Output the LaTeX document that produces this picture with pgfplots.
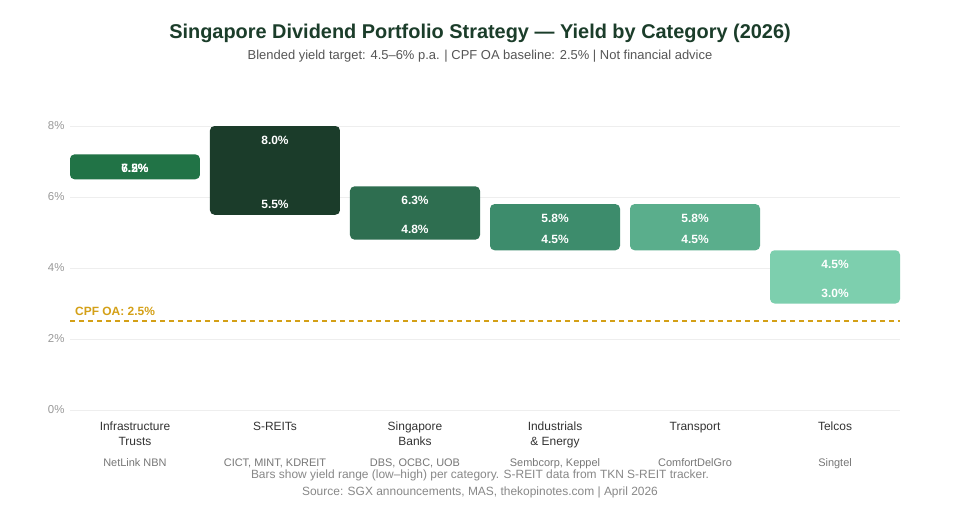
\documentclass[border=0pt]{standalone}
\usepackage{pgfplots}
\pgfplotsset{compat=1.18}
\usepackage{pgfplotstable}
\usepackage{fontspec}
\setmainfont{Liberation Sans}
\definecolor{c0}{HTML}{217346}
\definecolor{c1}{HTML}{1B3C2A}
\definecolor{c2}{HTML}{2E6E50}
\definecolor{c3}{HTML}{3D8C6C}
\definecolor{c4}{HTML}{5AAE8C}
\definecolor{c5}{HTML}{7DCFAE}
\definecolor{titlec}{HTML}{1B3D2A}
\definecolor{subc}{HTML}{555555}
\definecolor{tickc}{HTML}{999999}
\definecolor{catc}{HTML}{333333}
\definecolor{tkc}{HTML}{777777}
\definecolor{footc}{HTML}{888888}
\definecolor{gridc}{HTML}{EEEEEE}
\definecolor{cpfc}{HTML}{D4A017}
\pgfplotstableread{
x low high
0 6.5 7.2
1 5.5 8.0
2 4.8 6.3
3 4.5 5.8
4 4.5 5.8
5 3.0 4.5
}\yieldtable
\pgfplotsset{
  frame/.style={at={(70bp,110bp)}, anchor=south west, scale only axis,
    width=830bp, height=284bp,
    xmin=-0.464, xmax=5.464, ymin=0, ymax=8},
  barax/.style={frame, hide axis, stack plots=y, bar width=0.9286, bar shift=0pt},
}
\tikzset{lbl/.style={font=\bfseries\fontsize{12}{14}\selectfont, text=white}}
\newcommand{\tk}[1]{{\fontsize{11}{15.5}\selectfont\color{tkc}\strut #1}}
\begin{document}
\begin{tikzpicture}
\fill[white] (0bp,0bp) rectangle (960bp,520bp);
\node[font=\bfseries\fontsize{20}{24}\selectfont, text=titlec] at (480bp,487bp) {Singapore Dividend Portfolio Strategy — Yield by Category (2026)};
\node[font=\fontsize{13}{16}\selectfont, text=subc] at (480bp,464bp) {Blended yield target: 4.5–6\% p.a. | CPF OA baseline: 2.5\% | Not financial advice};
\begin{axis}[
  frame,
  axis line style={draw=none}, major tick length=0pt,
  ymajorgrids, grid style={gridc, line width=0.8bp},
  ytick={0,2,4,6,8},
  yticklabel={\pgfmathprintnumber{\tick}\%},
  /pgf/number format/assume math mode=true,
  yticklabel style={font=\fontsize{11.5}{14}\selectfont, text=tickc, xshift=-2bp},
  xtick={0,1,2,3,4,5},
  xticklabels={
    {\strut Infrastructure\\Trusts\\[5bp]\tk{NetLink NBN}},
    {\strut S-REITs\\\mbox{}\\[5bp]\tk{CICT, MINT, KDREIT}},
    {\strut Singapore\\Banks\\[5bp]\tk{DBS, OCBC, UOB}},
    {\strut Industrials\\\& Energy\\[5bp]\tk{Sembcorp, Keppel}},
    {\strut Transport\\\mbox{}\\[5bp]\tk{ComfortDelGro}},
    {\strut Telcos\\\mbox{}\\[5bp]\tk{Singtel}}},
  xticklabel style={font=\fontsize{12}{15.5}\selectfont, text=catc, align=center, anchor=north, yshift=-6bp},
  clip=false,
]
\addplot[sharp plot, cpfc, dash pattern=on 5bp off 4bp, line width=1.6bp, forget plot] coordinates {(-0.464,2.5) (5.464,2.5)};
\node[font=\bfseries\fontsize{12}{14}\selectfont, text=cpfc, anchor=base west, inner sep=0pt, xshift=5bp, yshift=6bp] at (axis cs:-0.464,2.5) {CPF OA: 2.5\%};
\end{axis}
\foreach \i in {0,...,5} {
\begin{axis}[barax]
\addplot[ybar, draw=none, fill=none, forget plot] table[x=x, y=low, restrict expr to domain={\thisrow{x}}{\i:\i}]{\yieldtable};
\addplot[ybar, fill=c\i, draw=none, rounded corners=4.5bp] table[x=x, y expr={\thisrow{high}-\thisrow{low}}, restrict expr to domain={\thisrow{x}}{\i:\i}]{\yieldtable};
\end{axis}
}
\begin{axis}[frame, hide axis, clip=false]
\addplot[draw=none, forget plot] coordinates {(0,0)};
\node[lbl, yshift=-14bp] at (axis cs:0,7.2) {7.2\%};
\node[lbl, yshift=10.5bp] at (axis cs:0,6.5) {6.5\%};
\node[lbl, yshift=-14bp] at (axis cs:1,8.0) {8.0\%};
\node[lbl, yshift=10.5bp] at (axis cs:1,5.5) {5.5\%};
\node[lbl, yshift=-14bp] at (axis cs:2,6.3) {6.3\%};
\node[lbl, yshift=10.5bp] at (axis cs:2,4.8) {4.8\%};
\node[lbl, yshift=-14bp] at (axis cs:3,5.8) {5.8\%};
\node[lbl, yshift=10.5bp] at (axis cs:3,4.5) {4.5\%};
\node[lbl, yshift=-14bp] at (axis cs:4,5.8) {5.8\%};
\node[lbl, yshift=10.5bp] at (axis cs:4,4.5) {4.5\%};
\node[lbl, yshift=-14bp] at (axis cs:5,4.5) {4.5\%};
\node[lbl, yshift=10.5bp] at (axis cs:5,3.0) {3.0\%};
\end{axis}
\node[font=\fontsize{12}{14}\selectfont, text=footc] at (480bp,45bp) {Bars show yield range (low–high) per category. S-REIT data from TKN S-REIT tracker.};
\node[font=\fontsize{12}{14}\selectfont, text=footc] at (480bp,28bp) {Source: SGX announcements, MAS, thekopinotes.com | April 2026};
\end{tikzpicture}
\end{document}
